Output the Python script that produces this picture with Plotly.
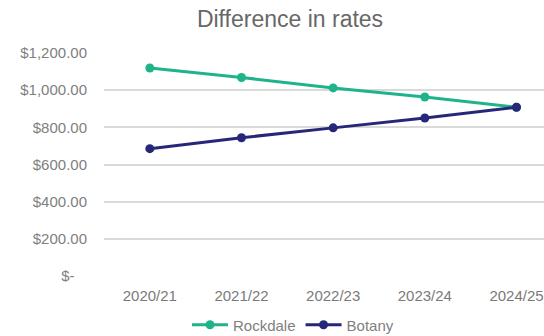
import plotly.graph_objects as go

# Financial years and annual rates for each former council area
years = ["2020/21", "2021/22", "2022/23", "2023/24", "2024/25"]
rockdale = [1119, 1068, 1012, 963, 908]
botany = [685, 744, 797, 850, 908]

# Currency axis ticks
y_ticks = [0, 200, 400, 600, 800, 1000, 1200]
y_tick_text = ["$-\u00a0\u00a0\u00a0", "$200.00", "$400.00", "$600.00",
               "$800.00", "$1,000.00", "$1,200.00"]

FONT = "Liberation Sans, Arial, sans-serif"
TEAL = "#1fb38b"
NAVY = "#27277a"

fig = go.Figure()
fig.add_trace(go.Scatter(
    x=years, y=rockdale, name="Rockdale", mode="lines+markers",
    line=dict(color=TEAL, width=3), marker=dict(color=TEAL, size=9),
))
fig.add_trace(go.Scatter(
    x=years, y=botany, name="Botany", mode="lines+markers",
    line=dict(color=NAVY, width=3), marker=dict(color=NAVY, size=9),
))

fig.update_layout(
    width=544, height=336,
    margin=dict(l=104, r=0, t=52, b=59),
    paper_bgcolor="white", plot_bgcolor="white",
    font=dict(family=FONT, size=15, color="#808080"),
    title=dict(text="Difference in rates", x=290 / 544, xanchor="center",
               xref="container", y=1 - 19 / 336, yanchor="middle",
               font=dict(size=23, color="#686868")),
    showlegend=True,
    legend=dict(orientation="h", xref="container", x=293 / 544,
                xanchor="center", yref="container", y=1 - 325 / 336,
                yanchor="middle", itemwidth=36,
                font=dict(size=15, color="#808080"), tracegroupgap=0),
)
fig.update_xaxes(
    type="category", range=[-0.5, 4.3], showgrid=False, showline=False,
    zeroline=False, ticks="", ticklabelstandoff=8,
    tickfont=dict(size=15, color="#7a7a7a"),
)
fig.update_yaxes(
    range=[-5, 1205], tickvals=y_ticks, ticktext=y_tick_text,
    showgrid=True, gridcolor="#d9d9d9", gridwidth=1.5,
    zeroline=False, showline=False, ticks="", ticklabelstandoff=16,
    tickfont=dict(size=15, color="#808080"),
)

fig.write_html("out.html")
